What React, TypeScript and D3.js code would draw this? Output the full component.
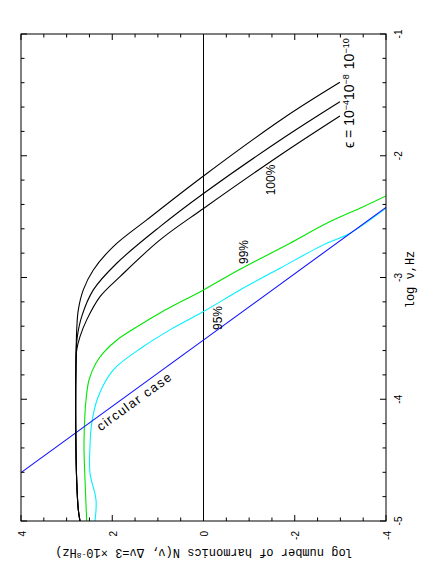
import React from 'react';
import * as d3 from 'd3';

// ---- data ----
// x quantity: log nu [Hz], y quantity: log number of harmonics N
const eps10Nu = [-1.397, -1.692, -2.166, -2.527, -2.746, -2.938, -3.102, -3.266, -3.43, -3.701, -4.251, -4.662, -4.908, -5.0];
const eps10N = [-2.99, -1.75, 0.0, 1.245, 1.977, 2.415, 2.635, 2.744, 2.779, 2.795, 2.8, 2.78, 2.744, 2.707];

const eps8Nu = [-1.556, -1.854, -2.31, -2.582, -2.883, -3.102, -3.321, -3.485, -3.594, -3.701, -4.251, -4.662, -4.908, -5.0];
const eps8N = [-2.99, -1.75, 0.0, 0.953, 1.902, 2.415, 2.67, 2.766, 2.79, 2.795, 2.8, 2.78, 2.744, 2.707];

const eps4Nu = [-1.673, -1.977, -2.433, -2.691, -2.993, -3.157, -3.348, -3.485, -3.594, -3.701, -4.251, -4.662, -4.908, -5.0];
const eps4N = [-2.99, -1.75, 0.0, 0.953, 1.83, 2.268, 2.56, 2.707, 2.779, 2.795, 2.8, 2.78, 2.744, 2.707];

const p99Nu = [-2.33, -2.418, -2.554, -2.718, -2.932, -3.102, -3.291, -3.415, -3.513, -3.612, -3.702, -3.842, -4.006, -4.113, -4.388, -4.662, -5.0];
const p99N = [-4.0, -3.503, -2.7, -1.896, -0.8, 0.0, 0.953, 1.501, 1.896, 2.181, 2.356, 2.51, 2.575, 2.597, 2.619, 2.597, 2.56];

const p95Nu = [-2.43, -2.636, -2.732, -2.924, -3.102, -3.28, -3.43, -3.567, -3.759, -3.978, -4.196, -4.388, -4.607, -4.826, -5.0];
const p95N = [-4.0, -3.211, -2.626, -1.677, -0.8, 0.0, 0.734, 1.319, 1.977, 2.306, 2.45, 2.488, 2.488, 2.356, 2.378];

const circNu = [-4.603, -2.424];
const circN = [4.0, -4.0];

const nuTickLabels = [-1, -2, -3, -4, -5];
const nTickLabels = [4, 2, 0, -2, -4];

// ---- layout ----
const W = 435;
const H = 581;
const L = 21, R = 386, T = 34, B = 521;

const xN = d3.scaleLinear().domain([4, -4]).range([L, R]);
const yNu = d3.scaleLinear().domain([-1, -5]).range([T, B]);

const line = d3
  .line<[number, number]>()
  .x((d) => xN(d[1]))
  .y((d) => yNu(d[0]))
  .curve(d3.curveCatmullRom.alpha(0.5));

const zip = (a: number[], b: number[]) => a.map((v, i) => [v, b[i]] as [number, number]);

const sansFont = "'Liberation Sans', Arial, sans-serif";
const monoFont = "'Liberation Mono', 'Courier New', monospace";

export default function App() {
  const nuMinor = d3.range(-5, -0.99, 0.2);
  const nMinor = d3.range(-4, 4.01, 0.5);
  const isInt = (v: number) => Math.abs(v - Math.round(v)) < 1e-6;
  const isEven = (v: number) => isInt(v) && Math.round(v) % 2 === 0;

  const curves = [
    { d: zip(p95Nu, p95N), c: '#00f0ff' },
    { d: zip(p99Nu, p99N), c: '#00e600' },
    { d: zip(circNu, circN), c: '#1010ff' },
    { d: zip(eps10Nu, eps10N), c: '#000' },
    { d: zip(eps8Nu, eps8N), c: '#000' },
    { d: zip(eps4Nu, eps4N), c: '#000' },
  ];

  return (
    <svg
      width={W}
      height={H}
      style={{ position: 'absolute', left: 0, top: 0, background: '#fff' }}
    >
      <defs>
        <clipPath id="frame">
          <rect x={L} y={T} width={R - L} height={B - T} />
        </clipPath>
      </defs>
      <rect x={0} y={0} width={W} height={H} fill="#fff" />

      {/* zero line */}
      <line x1={xN(0)} x2={xN(0)} y1={T} y2={B} stroke="#000" strokeWidth={1} />

      <g clipPath="url(#frame)" fill="none" strokeWidth={1.1}>
        {curves.map((c, i) => (
          <path key={i} d={line(c.d) || ''} stroke={c.c} />
        ))}
      </g>

      {/* frame */}
      <rect x={L} y={T} width={R - L} height={B - T} fill="none" stroke="#000" strokeWidth={1} />

      {/* ticks on nu (left / right sides) */}
      {nuMinor.map((v, i) => {
        const y = yNu(v);
        const len = isInt(v) ? 6 : 3.5;
        return (
          <g key={'nu' + i} stroke="#000" strokeWidth={1}>
            <line x1={L} x2={L + len} y1={y} y2={y} />
            <line x1={R} x2={R - len} y1={y} y2={y} />
          </g>
        );
      })}
      {/* ticks on N (top / bottom sides) */}
      {nMinor.map((v, i) => {
        const x = xN(v);
        const len = isEven(v) ? 6 : 3.5;
        return (
          <g key={'n' + i} stroke="#000" strokeWidth={1}>
            <line x1={x} x2={x} y1={T} y2={T + len} />
            <line x1={x} x2={x} y1={B} y2={B - len} />
          </g>
        );
      })}

      {/* tick labels */}
      {nuTickLabels.map((v) => (
        <text
          key={'nl' + v}
          transform={`translate(${398},${yNu(v)}) rotate(-90)`}
          textAnchor="middle"
          dominantBaseline="central"
          fontFamily={sansFont}
          fontSize={10}
        >
          {v}
        </text>
      ))}
      {nTickLabels.map((v) => (
        <text
          key={'tl' + v}
          transform={`translate(${xN(v) + 1},${531}) rotate(-90)`}
          textAnchor="end"
          dominantBaseline="central"
          fontFamily={sansFont}
          fontSize={10}
        >
          {v}
        </text>
      ))}

      {/* axis titles */}
      <text
        transform={`translate(411,${(T + B) / 2 + 2}) rotate(-90)`}
        textAnchor="middle"
        dominantBaseline="central"
        fontFamily={monoFont}
        fontSize={12}
      >
        log ν,Hz
      </text>
      <text
        transform={`translate(204,552) rotate(180)`}
        textAnchor="middle"
        dominantBaseline="central"
        fontFamily={monoFont}
        fontSize={12}
      >
        log number of harmonics N(ν, Δν=3 ×10<tspan dy={-4} fontSize={8}>-8</tspan>
        <tspan dy={4}>Hz)</tspan>
      </text>

      {/* curve labels */}
      <text transform="translate(354,148) rotate(-90)" fontFamily={sansFont} fontSize={14}>
        ϵ = 10<tspan dy={-5} fontSize={9}>−4</tspan>
        <tspan dy={5}>10</tspan>
        <tspan dy={-5} fontSize={9}>−8</tspan>
        <tspan dy={5} dx={5}>10</tspan>
        <tspan dy={-5} fontSize={9}>−10</tspan>
      </text>
      <text transform="translate(275,180) rotate(-90)" textAnchor="middle" fontFamily={sansFont} fontSize={12}>
        100%
      </text>
      <text transform="translate(248,252) rotate(-90)" textAnchor="middle" fontFamily={sansFont} fontSize={12}>
        99%
      </text>
      <text transform="translate(222,318) rotate(-90)" textAnchor="middle" fontFamily={sansFont} fontSize={12}>
        95%
      </text>
      <text
        transform="translate(137,405) rotate(-36)"
        textAnchor="middle"
        fontFamily={sansFont}
        fontSize={13}
        letterSpacing={1.3}
      >
        circular case
      </text>
    </svg>
  );
}
